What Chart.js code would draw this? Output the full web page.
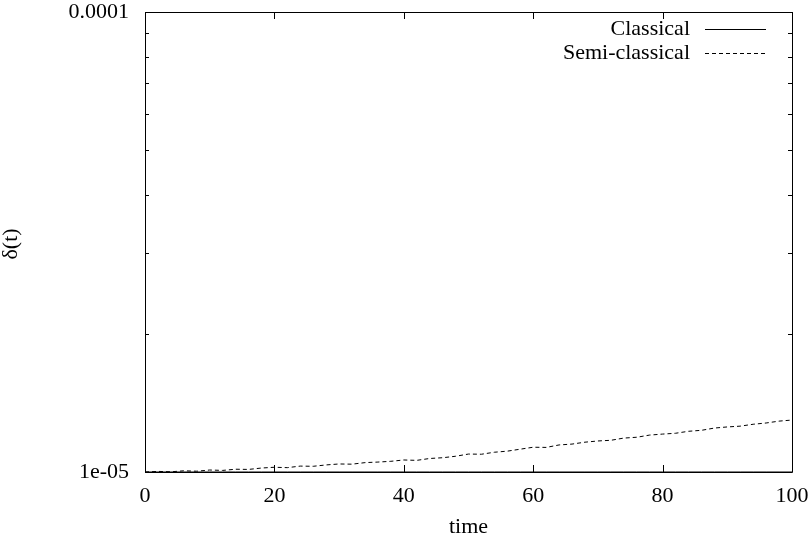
<!DOCTYPE html>
<html><head><meta charset="utf-8">
<script src="https://cdn.jsdelivr.net/npm/chart.js@4"></script>
<style>html,body{margin:0;padding:0;background:#fff}#wrap{width:808px;height:539px}</style>
</head><body><div id="wrap"><canvas id="c" width="808" height="539"></canvas></div>
<script>
const times = [0,2,4,6,8,10,12,14,16,18,20,22,24,26,28,30,32,34,36,38,40,42,44,46,48,50,52,54,56,58,60,62,64,66,68,70,72,74,76,78,80,82,84,86,88,90,92,94,96,98,100];
const semiClassical = [1.000,1.003,1.001,1.006,1.004,1.010,1.008,1.014,1.013,1.020,1.024,1.022,1.030,1.029,1.036,1.041,1.040,1.048,1.051,1.055,1.062,1.060,1.070,1.074,1.082,1.094,1.093,1.104,1.110,1.121,1.132,1.131,1.145,1.150,1.161,1.168,1.172,1.185,1.190,1.203,1.209,1.214,1.226,1.232,1.246,1.253,1.258,1.270,1.278,1.290,1.297].map(v => v * 1e-5);
const classical = [1.000,1.000,1.000,1.000,1.000,1.000,1.000,1.000,1.000,1.000,1.000,1.000,1.000,1.000,1.000,1.000,1.000,1.000,1.000,1.000,1.000,1.000,1.000,1.000,1.000,1.000,1.000,1.000,1.000,1.000,1.000,1.000,1.000,1.000,1.000,1.000,1.000,1.000,1.000,1.000,1.000,1.000,1.000,1.000,1.000,1.000,1.000,1.000,1.000,1.000,1.000].map(v => v * 1e-5);
const xTicks = [0,20,40,60,80,100];
const yTicks = [1e-5, 1e-4];
const yTickLabels = ['1e-05', '0.0001'];
const yMinorTicks = [2e-5,3e-5,4e-5,5e-5,6e-5,7e-5,8e-5,9e-5];
const seriesLabels = ['Classical', 'Semi-classical'];
const xTitle = 'time';
const yTitle = 'δ(t)';

const FONT = "'Liberation Serif', 'DejaVu Serif', serif";
const FS = 22;

const frame = {
  id: 'frame',
  afterDatasetsDraw(chart) {
    const ctx = chart.ctx, a = chart.chartArea;
    const xs = chart.scales.x, ys = chart.scales.y;
    ctx.save();
    ctx.strokeStyle = '#000';
    ctx.lineWidth = 1;
    ctx.beginPath();
    ctx.rect(Math.round(a.left) + 0.5, Math.round(a.top) + 0.5, Math.round(a.right - a.left), Math.round(a.bottom - a.top));
    ctx.stroke();
    ctx.beginPath();
    xTicks.forEach(v => {
      const px = Math.round(xs.getPixelForValue(v)) + 0.5;
      ctx.moveTo(px, a.bottom); ctx.lineTo(px, a.bottom - 7);
      ctx.moveTo(px, a.top); ctx.lineTo(px, a.top + 7);
    });
    yTicks.forEach(v => {
      const py = Math.round(ys.getPixelForValue(v)) + 0.5;
      ctx.moveTo(a.left, py); ctx.lineTo(a.left + 7, py);
      ctx.moveTo(a.right, py); ctx.lineTo(a.right - 7, py);
    });
    yMinorTicks.forEach(v => {
      const py = Math.round(ys.getPixelForValue(v)) + 0.5;
      ctx.moveTo(a.left, py); ctx.lineTo(a.left + 4, py);
      ctx.moveTo(a.right, py); ctx.lineTo(a.right - 4, py);
    });
    ctx.stroke();
    ctx.font = FS + "px " + FONT;
    ctx.fillStyle = '#000';
    // legend (gnuplot style: text then sample)
    ctx.textAlign = 'right';
    ctx.textBaseline = 'middle';
    chart.data.datasets.forEach((ds, i) => {
      const y = 29 + i * 24;
      ctx.fillText(ds.label, 690, y);
      ctx.beginPath();
      ctx.setLineDash(ds.borderDash || []);
      ctx.moveTo(705, Math.round(y) + 0.5);
      ctx.lineTo(766, Math.round(y) + 0.5);
      ctx.stroke();
    });
    ctx.setLineDash([]);
    // axis titles
    ctx.textAlign = 'center';
    ctx.textBaseline = 'alphabetic';
    ctx.fillText(xTitle, (a.left + a.right) / 2, 533);
    ctx.translate(11, (a.top + a.bottom) / 2 + 2);
    ctx.rotate(-Math.PI / 2);
    ctx.textBaseline = 'middle';
    ctx.fillText(yTitle, 0, 0);
    ctx.restore();
  }
};

new Chart(document.getElementById('c'), {
  type: 'line',
  data: {
    labels: times,
    datasets: [
      { label: seriesLabels[0], data: times.map((t, i) => ({x: t, y: classical[i]})), borderColor: '#000', borderWidth: 1, pointRadius: 0, fill: false, tension: 0 },
      { label: seriesLabels[1], data: times.map((t, i) => ({x: t, y: semiClassical[i]})), borderColor: '#000', borderWidth: 1, borderDash: [4, 3], pointRadius: 0, fill: false, tension: 0 }
    ]
  },
  options: {
    responsive: false,
    animation: false,
    layout: { padding: { left: 0, right: 16, top: 12, bottom: 0 } },
    plugins: { legend: { display: false }, tooltip: { enabled: false } },
    scales: {
      x: {
        type: 'linear', min: 0, max: 100,
        afterBuildTicks: s => { s.ticks = xTicks.map(v => ({ value: v })); },
        afterFit: s => { s.height = 67; s.paddingLeft = 0; s.paddingRight = 0; },
        grid: { display: false, drawTicks: false },
        border: { display: false },
        ticks: { color: '#000', font: { family: FONT, size: FS }, padding: 11, maxRotation: 0, autoSkip: false, callback: v => String(v) },
        title: { display: false }
      },
      y: {
        type: 'logarithmic', min: 1e-5, max: 1e-4,
        afterBuildTicks: s => { s.ticks = yTicks.map(v => ({ value: v })); },
        afterFit: s => { s.width = 145; s.paddingTop = 0; s.paddingBottom = 0; },
        grid: { display: false, drawTicks: false },
        border: { display: false },
        ticks: { color: '#000', font: { family: FONT, size: FS }, padding: 16, autoSkip: false, callback: v => yTickLabels[yTicks.indexOf(v)] },
        title: { display: false }
      }
    }
  },
  plugins: [frame]
});
</script></body></html>
